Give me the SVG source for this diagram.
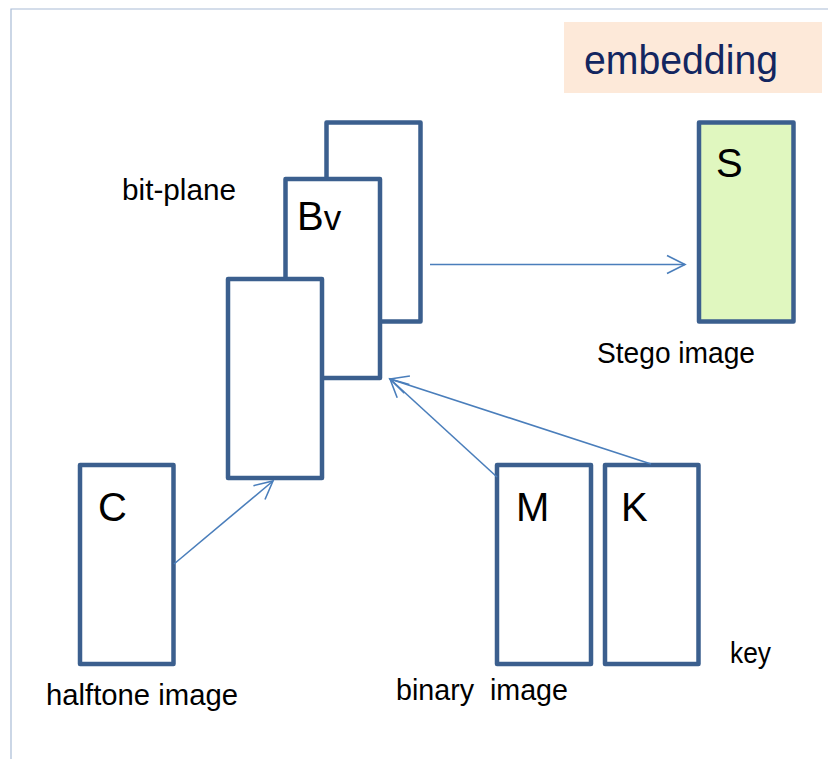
<svg xmlns="http://www.w3.org/2000/svg" width="828" height="759" viewBox="0 0 828 759">
  <style>
    .frame { fill: none; stroke: #a9bcd6; stroke-width: 1.2; }
    .plane { fill: #ffffff; stroke: #3b5f8e; stroke-width: 4.5; stroke-linejoin: round; }
    .stego { fill: #e0f7bf; stroke: #3b5f8e; stroke-width: 4.5; stroke-linejoin: round; }
    .link { fill: none; stroke: #4a7ebb; stroke-width: 1.6; }
    .label { font-family: "Liberation Sans", Arial, sans-serif; font-size: 29px; fill: #000000; }
    .big { font-family: "Liberation Sans", Arial, sans-serif; font-size: 40px; fill: #000000; }
    .title { font-family: "Liberation Sans", Arial, sans-serif; font-size: 40px; fill: #132660; }
  </style>
  <defs>
    <marker id="openArrow" markerUnits="userSpaceOnUse" markerWidth="24" markerHeight="24" viewBox="-20 -12 24 24" refX="0" refY="0" orient="auto">
      <path d="M -18 -9 L 0 0 L -18 9" fill="none" stroke="#4a7ebb" stroke-width="1.6"/>
    </marker>
  </defs>

  <rect width="828" height="759" fill="#ffffff"/>
  <!-- slide frame -->
  <path class="frame" d="M 11 759 L 11 9 L 828 9"/>

  <!-- caption -->
  <g id="title">
    <rect x="564" y="22" width="258" height="71" fill="#fde9d9"/>
    <text class="title" x="584" y="74" textLength="194" lengthAdjust="spacingAndGlyphs">embedding</text>
  </g>

  <!-- stacked bit-planes -->
  <g id="plane-back">
    <rect class="plane" x="326.5" y="122.5" width="94" height="199"/>
  </g>
  <g id="plane-bv">
    <rect class="plane" x="285.5" y="179" width="94.5" height="199"/>
    <text class="big" x="297" y="230"><tspan>B</tspan><tspan font-size="35">v</tspan></text>
  </g>
  <g id="plane-front">
    <rect class="plane" x="228" y="279" width="94" height="199"/>
  </g>
  <g id="bitplane-label">
    <text class="label" x="122" y="200" textLength="114" lengthAdjust="spacingAndGlyphs">bit-plane</text>
  </g>

  <!-- stego output -->
  <g id="stego">
    <rect class="stego" x="699" y="122.5" width="94.5" height="199"/>
    <text class="big" x="716" y="177" font-size="42">S</text>
    <text class="label" x="597" y="363" textLength="158" lengthAdjust="spacingAndGlyphs">Stego image</text>
  </g>

  <!-- cover -->
  <g id="cover">
    <rect class="plane" x="80" y="465" width="93.5" height="199"/>
    <text class="big" x="98" y="521">C</text>
    <text class="label" x="46" y="705" textLength="192" lengthAdjust="spacingAndGlyphs">halftone image</text>
  </g>

  <!-- secret message -->
  <g id="message">
    <rect class="plane" x="497" y="465" width="94" height="199"/>
    <text class="big" x="516" y="521">M</text>
    <text class="label" x="396" y="700" textLength="172" lengthAdjust="spacingAndGlyphs" xml:space="preserve">binary  image</text>
  </g>

  <!-- key -->
  <g id="key">
    <rect class="plane" x="605" y="465" width="93.5" height="199"/>
    <text class="big" x="621" y="521">K</text>
    <text class="label" x="730" y="663" textLength="41" lengthAdjust="spacingAndGlyphs">key</text>
  </g>

  <!-- connectors -->
  <g id="connectors">
    <line class="link" x1="430" y1="264.5" x2="685" y2="264.5" marker-end="url(#openArrow)"/>
    <line class="link" x1="174" y1="564" x2="273" y2="481" marker-end="url(#openArrow)"/>
    <line class="link" x1="497" y1="477" x2="390" y2="379" marker-end="url(#openArrow)"/>
    <line class="link" x1="651" y1="464" x2="390" y2="379" marker-end="url(#openArrow)"/>
  </g>
</svg>
